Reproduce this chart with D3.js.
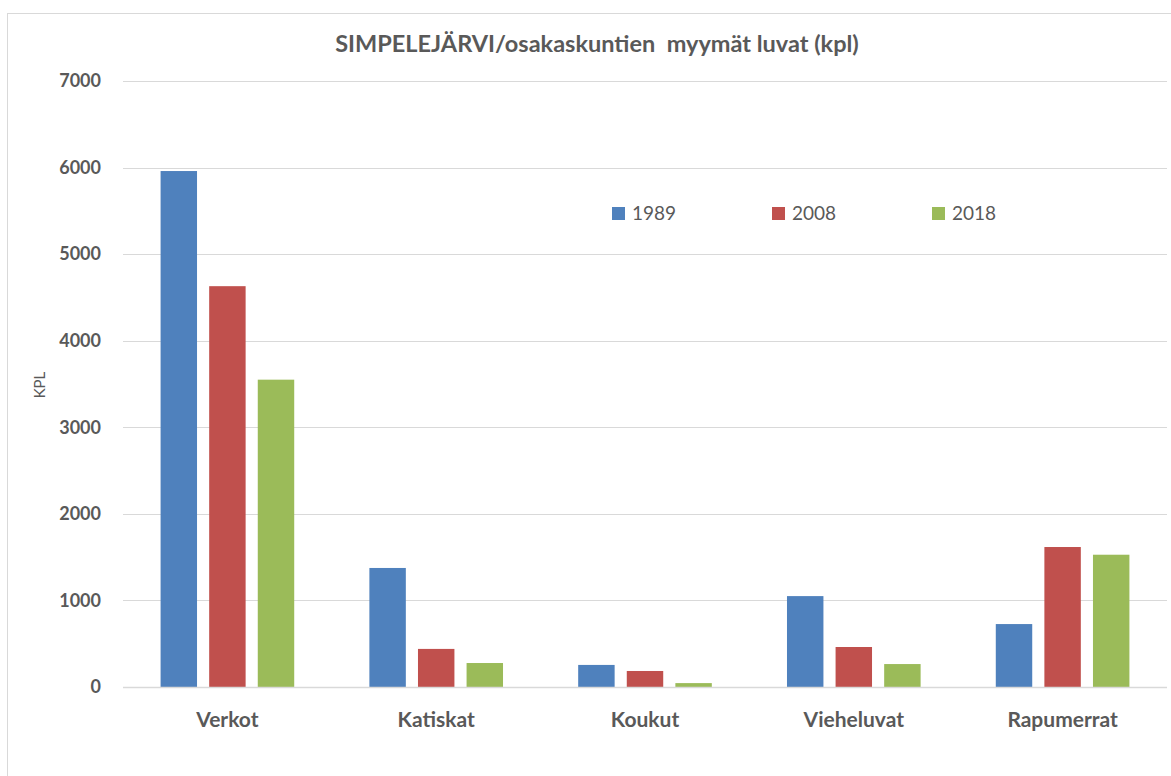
<!DOCTYPE html>
<html>
<head>
<meta charset="utf-8">
<script src="https://cdn.jsdelivr.net/npm/d3@7"></script>
<style>
  body { margin: 0; background: #fff; }
  text { font-family: Lato, "Open Sans", sans-serif; fill: #595959; }
</style>
</head>
<body>
<svg id="chart" width="1171" height="776"></svg>
<script>
// data
const categories = ["Verkot", "Katiskat", "Koukut", "Vieheluvat", "Rapumerrat"];
const years = ["1989", "2008", "2018"];
const values1989 = [5960, 1375, 255, 1050, 727];
const values2008 = [4630, 440, 185, 462, 1617];
const values2018 = [3550, 277, 45, 265, 1528];
const yTicks = [0, 1000, 2000, 3000, 4000, 5000, 6000, 7000];
const colors = ["#4f81bd", "#c0504d", "#9bbb59"];

const series = [values1989, values2008, values2018];

const svg = d3.select("#chart");
const margin = {left: 123, right: 4, top: 81, bottom: 89};
const width = 1171, height = 776;

// chart frame
svg.append("rect")
  .attr("x", 7.5).attr("y", 13.5)
  .attr("width", 1200).attr("height", 800)
  .attr("fill", "#fff")
  .attr("stroke", "#d9d9d9")
  .attr("stroke-width", 1);

const x0 = d3.scaleBand()
  .domain(categories)
  .range([margin.left, width - margin.right])
  .paddingInner(0.36)
  .paddingOuter(0.18);

const x1 = d3.scaleBand()
  .domain(years)
  .range([0, x0.bandwidth()])
  .paddingInner(0.25);

const y = d3.scaleLinear()
  .domain([0, 7000])
  .range([height - margin.bottom, margin.top]);

// gridlines
svg.append("g")
  .selectAll("line")
  .data(yTicks.filter(d => d > 0))
  .join("line")
    .attr("x1", margin.left)
    .attr("x2", width - margin.right)
    .attr("y1", d => Math.round(y(d)) + 0.5)
    .attr("y2", d => Math.round(y(d)) + 0.5)
    .attr("stroke", "#d9d9d9")
    .attr("stroke-width", 1);

// y tick labels
svg.append("g")
  .selectAll("text")
  .data(yTicks)
  .join("text")
    .attr("x", 101)
    .attr("y", d => y(d))
    .attr("dy", "0.35em")
    .attr("text-anchor", "end")
    .attr("font-size", 18)
    .attr("font-weight", "bold")
    .text(d => d);

// bars
const groups = svg.append("g")
  .selectAll("g")
  .data(categories)
  .join("g")
    .attr("transform", d => `translate(${x0(d)},0)`);

groups.selectAll("rect")
  .data((d, i) => years.map((yr, j) => ({year: yr, value: series[j][i], j})))
  .join("rect")
    .attr("x", d => x1(d.year))
    .attr("y", d => y(d.value))
    .attr("width", x1.bandwidth())
    .attr("height", d => y(0) - y(d.value))
    .attr("fill", d => colors[d.j]);

// baseline
svg.append("line")
  .attr("x1", margin.left)
  .attr("x2", width - margin.right)
  .attr("y1", y(0) + 0.5)
  .attr("y2", y(0) + 0.5)
  .attr("stroke", "#d9d9d9")
  .attr("stroke-width", 1.5);

// category labels
svg.append("g")
  .selectAll("text")
  .data(categories)
  .join("text")
    .attr("x", d => x0(d) + x0.bandwidth() / 2)
    .attr("y", 727)
    .attr("text-anchor", "middle")
    .attr("font-size", 21)
    .attr("font-weight", "bold")
    .text(d => d);

// axis title
svg.append("text")
  .attr("transform", "translate(45,385) rotate(-90)")
  .attr("text-anchor", "middle")
  .attr("font-size", 15)
  .attr("fill", "#404040")
  .text("KPL");

// chart title
svg.append("text")
  .attr("x", 597)
  .attr("y", 52)
  .attr("text-anchor", "middle")
  .attr("font-size", 23.5)
  .attr("font-weight", "bold")
  .style("white-space", "pre")
  .text("SIMPELEJÄRVI/osakaskuntien  myymät luvat (kpl)");

// legend
const legend = svg.append("g")
  .selectAll("g")
  .data(years)
  .join("g")
    .attr("transform", (d, i) => `translate(${612 + i * 160},207)`);

legend.append("rect")
  .attr("width", 13).attr("height", 13)
  .attr("fill", (d, i) => colors[i]);

legend.append("text")
  .attr("x", 20)
  .attr("y", 13)
  .attr("font-size", 19)
  .text(d => d);
</script>
</body>
</html>
